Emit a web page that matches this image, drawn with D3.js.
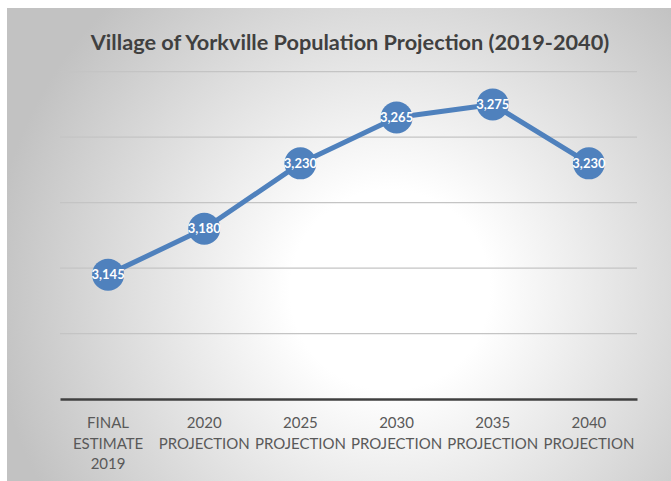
<!DOCTYPE html>
<html><head><meta charset="utf-8">
<script src="https://cdn.jsdelivr.net/npm/d3@7"></script>
<style>body{margin:0;background:#fff}svg{display:block}</style>
</head><body>
<script>
const categories = [["FINAL","ESTIMATE","2019"],["2020","PROJECTION"],["2025","PROJECTION"],["2030","PROJECTION"],["2035","PROJECTION"],["2040","PROJECTION"]];
const population = [3145, 3180, 3230, 3265, 3275, 3230];
const yTicks = [3050, 3100, 3150, 3200, 3250, 3300];
const title = "Village of Yorkville Population Projection (2019-2040)";

const W = 671, H = 481;
const svg = d3.select("body").append("svg").attr("width", W).attr("height", H);
const defs = svg.append("defs");
const rg = defs.append("radialGradient").attr("id","bg").attr("gradientUnits","userSpaceOnUse")
  .attr("cx",390).attr("cy",290).attr("r",400);
rg.append("stop").attr("offset","0").attr("stop-color","#ffffff");
rg.append("stop").attr("offset","0.25").attr("stop-color","#ffffff");
rg.append("stop").attr("offset","1").attr("stop-color","#c2c2c2");
svg.append("rect").attr("x",7).attr("y",8).attr("width",W).attr("height",H-8).attr("fill","url(#bg)");

const x = d3.scaleBand().domain(d3.range(categories.length)).range([60, 637]);
const y = d3.scaleLinear().domain([3050, 3300]).range([399, 71.7]);

svg.append("g").selectAll("line").data(yTicks.slice(1)).join("line")
  .attr("x1",60).attr("x2",637).attr("y1",d=>y(d)).attr("y2",d=>y(d))
  .attr("stroke","#c4c4c4").attr("stroke-width",1.2);

const xAxis = svg.append("g").attr("transform",`translate(0,${y(3050)})`)
  .call(d3.axisBottom(x).tickSize(0).tickFormat(""));
xAxis.select(".domain").attr("stroke","#404040").attr("stroke-width",2.5);

const lab = svg.append("g").selectAll("text").data(categories).join("text")
  .attr("text-anchor","middle").attr("font-family","Lato, 'Open Sans', sans-serif")
  .attr("font-size",15).attr("fill","#595959");
lab.each(function(d,i){
  const t = d3.select(this);
  d.forEach((s,j)=>t.append("tspan").attr("x",x(i)+x.bandwidth()/2).attr("y",428+j*20.5).text(s));
});

const line = d3.line().x((d,i)=>x(i)+x.bandwidth()/2).y(d=>y(d));
svg.append("path").datum(population).attr("d",line).attr("fill","none")
  .attr("stroke","#4f81bd").attr("stroke-width",5).attr("stroke-linejoin","round");

svg.append("g").selectAll("circle").data(population).join("circle")
  .attr("cx",(d,i)=>x(i)+x.bandwidth()/2).attr("cy",d=>y(d)).attr("r",16)
  .attr("fill","#4f81bd");

svg.append("g").selectAll("text").data(population).join("text")
  .attr("x",(d,i)=>x(i)+x.bandwidth()/2).attr("y",d=>y(d)+4.5)
  .attr("text-anchor","middle").attr("font-family","Lato, 'Open Sans', sans-serif")
  .attr("font-weight","bold").attr("font-size",13).attr("fill","#ffffff")
  .text(d=>d3.format(",")(d));

svg.append("text").attr("x",350).attr("y",50).attr("text-anchor","middle")
  .attr("font-family","Lato, 'Open Sans', sans-serif").attr("font-weight","bold")
  .attr("font-size",21.7).attr("fill","#404040").text(title);
</script>
</body></html>
